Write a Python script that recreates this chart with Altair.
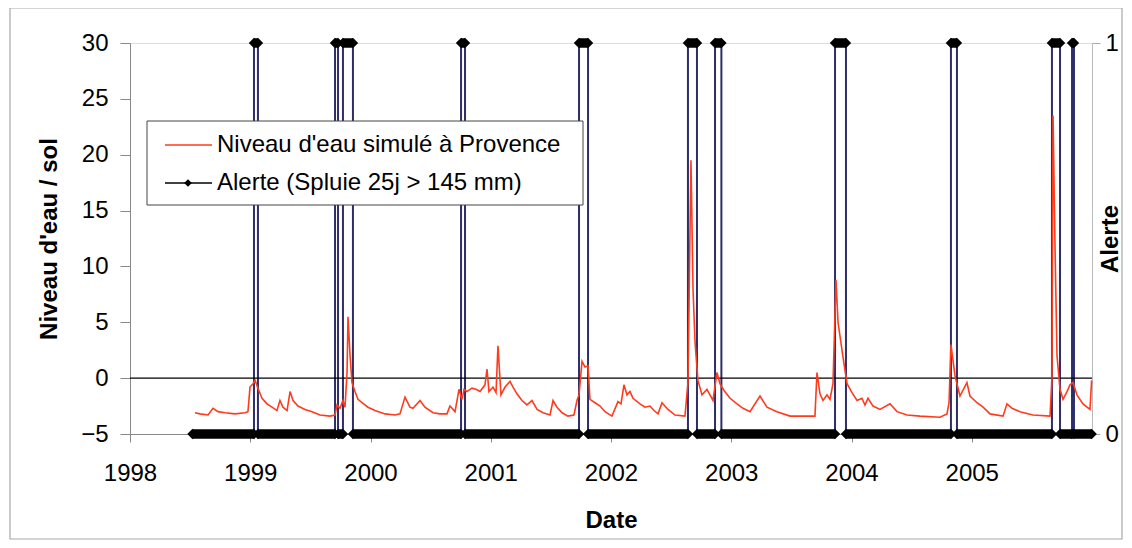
import altair as alt
import pandas as pd

# ---- Data (decimal years) ----
level_year = [
    1998.541, 1998.582, 1998.649, 1998.690, 1998.732, 1998.790, 1998.873, 1998.956,
    1998.981, 1998.998, 1999.023, 1999.040, 1999.064, 1999.098, 1999.139, 1999.181,
    1999.222, 1999.247, 1999.272, 1999.306, 1999.331, 1999.356, 1999.397, 1999.455,
    1999.514, 1999.580, 1999.663, 1999.705, 1999.721, 1999.746, 1999.771, 1999.788,
    1999.805, 1999.813, 1999.830, 1999.846, 1999.871, 1999.896, 1999.929, 1999.979,
    2000.037, 2000.121, 2000.204, 2000.245, 2000.287, 2000.328, 2000.353, 2000.412,
    2000.453, 2000.520, 2000.578, 2000.636, 2000.661, 2000.703, 2000.736, 2000.761,
    2000.778, 2000.802, 2000.844, 2000.877, 2000.911, 2000.952, 2000.969, 2000.985,
    2001.019, 2001.044, 2001.060, 2001.085, 2001.119, 2001.160, 2001.185, 2001.218,
    2001.260, 2001.301, 2001.343, 2001.385, 2001.435, 2001.493, 2001.518, 2001.551,
    2001.593, 2001.642, 2001.692, 2001.717, 2001.734, 2001.759, 2001.784, 2001.809,
    2001.825, 2001.867, 2001.909, 2001.950, 2002.008, 2002.058, 2002.083, 2002.108,
    2002.133, 2002.158, 2002.183, 2002.241, 2002.283, 2002.324, 2002.358, 2002.391,
    2002.424, 2002.474, 2002.532, 2002.615, 2002.640, 2002.665, 2002.682, 2002.699,
    2002.723, 2002.757, 2002.798, 2002.848, 2002.881, 2002.906, 2002.940, 2002.990,
    2003.048, 2003.098, 2003.156, 2003.239, 2003.297, 2003.380, 2003.489, 2003.696,
    2003.713, 2003.738, 2003.763, 2003.796, 2003.821, 2003.846, 2003.871, 2003.888,
    2003.929, 2003.963, 2004.004, 2004.046, 2004.087, 2004.112, 2004.137, 2004.179,
    2004.237, 2004.320, 2004.378, 2004.462, 2004.570, 2004.736, 2004.794, 2004.811,
    2004.827, 2004.861, 2004.902, 2004.960, 2004.985, 2005.044, 2005.094, 2005.152,
    2005.260, 2005.293, 2005.335, 2005.401, 2005.509, 2005.651, 2005.667, 2005.676,
    2005.692, 2005.709, 2005.734, 2005.759, 2005.792, 2005.817, 2005.842, 2005.875,
    2005.925, 2005.983, 2005.997,
]
level_value = [
    -3.1, -3.2, -3.3, -2.7, -3.0, -3.1, -3.2, -3.1,
    -3.0, -0.8, -0.5, -0.2, -0.9, -1.8, -2.3, -2.6,
    -2.9, -2.0, -2.6, -2.9, -1.2, -2.0, -2.5, -2.8,
    -3.0, -3.3, -3.4, -3.3, -2.4, -2.7, -2.0, -2.6,
    0.5, 5.5, 2.0, -0.4, -1.2, -1.9, -2.2, -2.6,
    -2.9, -3.2, -3.3, -3.2, -1.7, -2.6, -2.7, -2.0,
    -2.6, -3.1, -3.2, -3.2, -2.5, -3.0, -1.0, -1.9,
    -1.0, -1.2, -0.9, -1.0, -1.2, -0.6, 0.8, -1.2,
    -0.8, -1.3, 2.9, -1.5, -0.8, -0.3, -0.8, -1.4,
    -2.0, -2.4, -2.0, -2.8, -3.1, -3.3, -2.0, -2.6,
    -3.1, -3.4, -3.3, -2.0, -1.5, 1.5, 1.0, 1.1,
    -1.9, -2.2, -2.5, -3.0, -3.4, -2.1, -2.3, -0.6,
    -1.5, -1.2, -1.8, -2.3, -2.6, -2.5, -2.9, -3.2,
    -2.2, -2.8, -3.3, -3.4, -0.4, 19.5, 8.0, 3.2,
    -0.2, -1.5, -1.0, -2.0, 0.5, -0.5, -1.1, -1.8,
    -2.3, -2.7, -3.0, -1.6, -2.6, -3.0, -3.4, -3.4,
    0.5, -1.4, -2.0, -1.5, -1.9, -0.5, 8.8, 5.0,
    1.9, -0.5, -1.3, -2.0, -1.8, -2.4, -1.8, -2.5,
    -2.8, -2.3, -3.0, -3.3, -3.4, -3.5, -3.2, -2.2,
    3.0, 0.2, -1.6, -0.4, -1.6, -2.2, -2.6, -3.2,
    -3.4, -2.3, -2.7, -3.0, -3.3, -3.4, 0.0, 23.5,
    12.0, 2.0, -1.0, -1.9, -1.2, -0.6, -0.4, -1.5,
    -2.3, -2.8, -0.2,
]

alert_start = [1999.031, 1999.705, 1999.771, 2000.753, 2001.734, 2002.640,
               2002.865, 2003.863, 2004.827, 2005.667, 2005.834]
alert_end = [1999.064, 1999.730, 1999.854, 2000.786, 2001.809, 2002.715,
             2002.918, 2003.954, 2004.877, 2005.734, 2005.850]
alert_first = 1998.52
alert_last = 2005.997

x_ticks = [1998, 1999, 2000, 2001, 2002, 2003, 2004, 2005]
y_ticks = [-5, 0, 5, 10, 15, 20, 25, 30]
alert_ticks = [0, 1]
legend_labels = ["Niveau d'eau simulé à Provence", "Alerte (Spluie 25j > 145 mm)"]
x_title = "Date"
y_title = "Niveau d'eau / sol"
alert_title = "Alerte"

# ---- Tables ----
level_df = pd.DataFrame({"t": level_year, "v": level_value})

rows = [(alert_first, 0)]
for s, e in zip(alert_start, alert_end):
    rows += [(s, 0), (s, 1), (e, 1), (e, 0)]
rows.append((alert_last, 0))
alert_df = pd.DataFrame(rows, columns=["t", "a"])
alert_df["i"] = range(len(alert_df))

bands = []
prev = alert_first
for s, e in zip(alert_start, alert_end):
    bands.append((prev, s, 0))
    bands.append((s, e, 1))
    prev = e
bands.append((prev, alert_last, 0))
band_df = pd.DataFrame(bands, columns=["t0", "t1", "a"])

W, H = 962, 391
FONT = "Liberation Sans"

x_scale = alt.Scale(domain=[1998, 2006], nice=False, zero=False)
x_axis = alt.Axis(values=x_ticks, format="d", title=x_title, labelFontSize=24,
                  titleFontSize=24, titleFontWeight="bold", tickSize=8,
                  labelPadding=19, grid=False, tickColor="#888888",
                  domainColor="#888888", labelColor="black", titleColor="black",
                  labelFlush=False, titleY=86, titleBaseline="middle")
x_enc = alt.X("t:Q", scale=x_scale, axis=x_axis)

y_scale = alt.Scale(domain=[-5, 30], nice=False, zero=False)
y_axis = alt.Axis(values=y_ticks, format="d", title=y_title, orient="left",
                  labelFontSize=24, titleFontSize=24, titleFontWeight="bold",
                  tickSize=10, labelPadding=12, grid=False, tickColor="#888888",
                  domainColor="#888888", labelColor="black", titleColor="black",
                  titleAngle=270, titleX=-81, titleY=H / 2,
                  titleBaseline="middle", titleAlign="center")

a_scale = alt.Scale(domain=[0, 1], nice=False, zero=False)
a_axis = alt.Axis(values=alert_ticks, format="d", title=alert_title, orient="right",
                  labelFontSize=24, titleFontSize=24, titleFontWeight="bold",
                  tickSize=8, labelPadding=5, grid=False, tickColor="#aaaaaa",
                  domainColor="#bbbbbb", labelColor="black", titleColor="black",
                  titleAngle=270, titleX=18, titleY=H / 2,
                  titleBaseline="middle", titleAlign="center")

# ---- Alert group (right axis) ----
alert_line = alt.Chart(alert_df).mark_line(color="#2e2e6a", strokeWidth=2).encode(
    x=x_enc, y=alt.Y("a:Q", scale=a_scale, axis=a_axis), order="i:Q")
alert_bands = alt.Chart(band_df).mark_rule(color="black", strokeWidth=9.5, strokeCap="butt").encode(
    x=alt.X("t0:Q", scale=x_scale, axis=x_axis), x2="t1:Q",
    y=alt.Y("a:Q", scale=a_scale, axis=a_axis))
alert_pts = alt.Chart(alert_df).mark_point(shape="diamond", filled=True, color="black",
                                           size=110, opacity=1).encode(
    x=x_enc, y=alt.Y("a:Q", scale=a_scale, axis=a_axis))
alert_group = alt.layer(alert_line, alert_bands, alert_pts)

# ---- Level group (left axis) ----
zero_rule = alt.Chart(pd.DataFrame({"z": [0]})).mark_rule(color="black", strokeWidth=1.2).encode(
    y=alt.Y("z:Q", scale=y_scale, axis=y_axis))
level_line = alt.Chart(level_df).mark_line(color="#ff3b1e", strokeWidth=1.6).encode(
    x=x_enc, y=alt.Y("v:Q", scale=y_scale, axis=y_axis))

one = pd.DataFrame({"k": [0]})
frame = alt.Chart(one).mark_rect(fillOpacity=0, stroke="#a8a8a8", strokeWidth=1.2).encode(
    x=alt.value(-120), x2=alt.value(992), y=alt.value(-35), y2=alt.value(496))
leg_box = alt.Chart(one).mark_rect(fill="white", stroke="#444444", strokeWidth=1).encode(
    x=alt.value(17), x2=alt.value(453), y=alt.value(78), y2=alt.value(162))
leg_red = alt.Chart(one).mark_rule(color="#ff3b1e", strokeWidth=1.6).encode(
    x=alt.value(35), x2=alt.value(82), y=alt.value(102))
leg_blk = alt.Chart(one).mark_rule(color="black", strokeWidth=1.5).encode(
    x=alt.value(35), x2=alt.value(82), y=alt.value(140))
leg_dia = alt.Chart(one).mark_point(shape="diamond", filled=True, color="black",
                                    size=60, opacity=1).encode(
    x=alt.value(58), y=alt.value(140))
leg_txt1 = alt.Chart(one).mark_text(align="left", baseline="middle", fontSize=24,
                                    font=FONT, color="black").encode(
    x=alt.value(87), y=alt.value(102), text=alt.value(legend_labels[0]))
leg_txt2 = alt.Chart(one).mark_text(align="left", baseline="middle", fontSize=24,
                                    font=FONT, color="black").encode(
    x=alt.value(87), y=alt.value(140), text=alt.value(legend_labels[1]))

level_group = alt.layer(zero_rule, level_line, frame, leg_box, leg_red, leg_blk,
                        leg_dia, leg_txt1, leg_txt2)

chart = alt.layer(alert_group, level_group).resolve_scale(y="independent").properties(
    width=W, height=H,
    autosize=alt.AutoSizeParams(type="none"),
    padding={"left": 122, "top": 35, "right": 32, "bottom": 106},
    background="white",
).configure_view(stroke=None).configure(font=FONT)

chart.save("out.html", embed_options={"renderer": "svg", "actions": False})
